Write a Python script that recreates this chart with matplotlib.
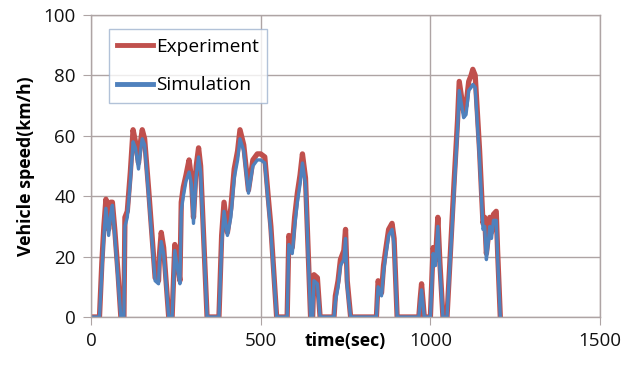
import matplotlib
matplotlib.use("Agg")
import matplotlib.pyplot as plt

plt.rcParams['font.family'] = ['Open Sans', 'DejaVu Sans']

# time (sec) and speed (km/h)
exp_t = [0, 25, 32, 38, 44, 52, 58, 63, 70, 80, 88, 97, 100, 107, 116, 124, 131, 140,
         146, 151, 158, 170, 189, 199, 202, 207, 214, 229, 239, 247, 255, 262, 266,
         272, 280, 289, 296, 302, 310, 317, 323, 342, 377, 385, 392, 402, 412, 422,
         432, 439, 450, 464, 477, 490, 500, 512, 522, 530, 547, 578, 583, 593, 600,
         608, 616, 623, 632, 647, 653, 657, 667, 675, 716, 720, 728, 735, 745, 750,
         755, 765, 841, 846, 856, 862, 868, 877, 887, 893, 902, 966, 970, 974, 982,
         1000, 1008, 1015, 1022, 1028, 1037, 1049, 1070, 1080, 1085, 1098, 1105,
         1113, 1120, 1125, 1132, 1145, 1155, 1160, 1165, 1170, 1175, 1180, 1186,
         1194, 1198, 1206]
exp_v = [0, 0, 18, 30, 39, 29, 38, 38, 29, 14, 0, 0, 33, 35, 48, 62, 58, 51,
         58, 62, 59, 42, 13, 12, 21, 28, 23, 0, 0, 24, 18, 12, 38,
         43, 47, 52, 46, 33, 50, 56, 50, 0, 0, 27, 38, 28, 36, 49,
         55, 62, 57, 42, 52, 54, 54, 53, 40, 30, 0, 0, 27, 23, 33,
         41, 47, 54, 46, 0, 0, 14, 13, 0, 0, 7, 12, 19, 22, 29,
         12, 0, 0, 12, 8, 17, 22, 29, 31, 26, 0, 0, 6, 11, 0,
         0, 23, 19, 33, 18, 0, 0, 45, 65, 78, 68, 70,
         78, 80, 82, 80, 55, 31, 33, 21, 26, 33, 28, 34,
         35, 22, 0]

sim_t = exp_t
sim_v = [0, 0, 15, 27, 36, 27, 34, 37, 27, 12, 0, 0, 30, 33, 45, 58, 56, 49,
         55, 59, 57, 40, 12, 11, 19, 25, 21, 0, 0, 22, 16, 11, 35,
         40, 45, 48, 44, 31, 47, 53, 48, 0, 0, 24, 35, 27, 33, 46,
         52, 59, 55, 41, 50, 52, 52, 51, 38, 28, 0, 0, 24, 21, 30,
         38, 44, 51, 44, 0, 0, 12, 11, 0, 0, 5, 10, 17, 19, 26,
         10, 0, 0, 10, 7, 15, 20, 27, 29, 24, 0, 0, 5, 9, 0,
         0, 21, 17, 30, 16, 0, 0, 42, 62, 75, 66, 67,
         75, 76, 77, 76, 52, 29, 30, 19, 24, 30, 26, 32,
         32, 20, 0]

x_ticks = [0, 500, 1000, 1500]
y_ticks = [0, 20, 40, 60, 80, 100]

grid_col = '#aea4a4'

fig = plt.figure(figsize=(6.31, 3.65), dpi=100)
ax = fig.add_axes([0.1442, 0.1315, 0.8068, 0.8275])

ax.plot(exp_t, exp_v, color='#c0504d', lw=3.8, label='Experiment', solid_joinstyle='round')
ax.plot(sim_t, sim_v, color='#4f81bd', lw=2.4, label='Simulation', solid_joinstyle='round')

ax.set_xlim(0, 1500)
ax.set_ylim(0, 100)
ax.set_xticks(x_ticks)
ax.set_yticks(y_ticks)
ax.grid(True, color=grid_col, lw=1.0)
ax.set_axisbelow(True)
for s in ax.spines.values():
    s.set_color(grid_col)
    s.set_linewidth(1.0)
ax.tick_params(direction='out', length=6, color=grid_col, labelsize=13.5, pad=5,
               labelcolor='#111111')

ax.set_ylabel('Vehicle speed(km/h)', fontsize=12.8, fontweight='bold', labelpad=6)
ax.set_xlabel('time(sec)', fontsize=12.8, fontweight='bold')
ax.xaxis.set_label_coords(0.5, -0.05)

leg = ax.legend(loc='upper left', bbox_to_anchor=(0.035, 0.952), fontsize=13.8,
                frameon=True, fancybox=False, handlelength=1.85, handletextpad=0.15,
                borderpad=0.45, labelspacing=1.05, borderaxespad=0)
leg.get_frame().set_edgecolor('#9fb3cf')
leg.get_frame().set_linewidth(1.0)
for line in leg.get_lines():
    line.set_linewidth(3.5)

fig.savefig('out.png', dpi=100)
